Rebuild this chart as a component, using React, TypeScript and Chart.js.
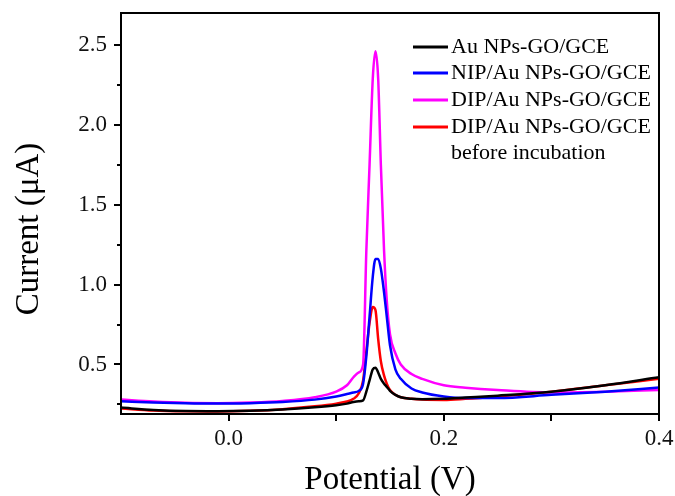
import React, { useEffect, useRef } from "react";
import { Chart, registerables } from "chart.js";

Chart.register(...registerables);

const potential = [-0.1, -0.07, -0.04, -0.01, 0.02, 0.05, 0.08, 0.1, 0.11, 0.116, 0.121, 0.125, 0.128, 0.131, 0.134, 0.1365, 0.139, 0.1415, 0.1445, 0.147, 0.15, 0.155, 0.16, 0.17, 0.18, 0.2, 0.22, 0.25, 0.3, 0.35, 0.4];

const auGoGce = [0.23, 0.215, 0.208, 0.207, 0.21, 0.218, 0.232, 0.245, 0.255, 0.265, 0.27, 0.275, 0.33, 0.4, 0.47, 0.48, 0.45, 0.41, 0.38, 0.36, 0.335, 0.31, 0.295, 0.285, 0.282, 0.285, 0.293, 0.305, 0.33, 0.37, 0.42];
const nipGce = [0.27, 0.262, 0.257, 0.255, 0.258, 0.265, 0.28, 0.3, 0.315, 0.325, 0.335, 0.38, 0.55, 0.8, 1.05, 1.16, 1.16, 1.1, 0.95, 0.8, 0.62, 0.47, 0.41, 0.35, 0.325, 0.3, 0.29, 0.29, 0.31, 0.33, 0.356];
const dipGce = [0.28, 0.268, 0.26, 0.258, 0.262, 0.272, 0.295, 0.33, 0.37, 0.42, 0.45, 0.5, 1.21, 1.75, 2.29, 2.46, 2.29, 1.75, 1.21, 0.9, 0.69, 0.57, 0.5, 0.44, 0.41, 0.37, 0.355, 0.34, 0.325, 0.33, 0.34];
const dipBefore = [0.225, 0.212, 0.207, 0.206, 0.21, 0.22, 0.238, 0.255, 0.268, 0.285, 0.32, 0.4, 0.58, 0.76, 0.86, 0.84, 0.66, 0.52, 0.43, 0.38, 0.34, 0.31, 0.295, 0.285, 0.28, 0.278, 0.285, 0.3, 0.33, 0.37, 0.41];

const seriesNames = ["Au NPs-GO/GCE", "NIP/Au NPs-GO/GCE", "DIP/Au NPs-GO/GCE", "DIP/Au NPs-GO/GCE"];
const seriesExtraLine = ["", "", "", "before incubation"];
const seriesColors = ["#000000", "#0000ff", "#ff00ff", "#ff0000"];

const xTickValues = [0.0, 0.1, 0.2, 0.3, 0.4];
const xLabelValues = [0.0, 0.2, 0.4];
const yTickValues = [0.25, 0.5, 0.75, 1.0, 1.25, 1.5, 1.75, 2.0, 2.25, 2.5];
const yLabelValues = [0.5, 1.0, 1.5, 2.0, 2.5];

const xTitle = "Potential (V)";
const yTitle = "Current (μA)";

const FONT = "'Liberation Serif', 'Times New Roman', serif";

export default function App() {
  const ref = useRef<HTMLCanvasElement | null>(null);

  useEffect(() => {
    document.body.style.margin = "0";
    const canvas = ref.current;
    if (!canvas) return;
    const values = [auGoGce, nipGce, dipGce, dipBefore];

    const decor = {
      id: "decor",
      afterDraw(chart: any) {
        const { ctx, chartArea } = chart;
        const xs = chart.scales.x;
        const ys = chart.scales.y;
        ctx.save();
        ctx.strokeStyle = "#000";
        ctx.lineWidth = 2;
        ctx.strokeRect(chartArea.left, chartArea.top, chartArea.right - chartArea.left, chartArea.bottom - chartArea.top);
        ctx.beginPath();
        for (const v of xTickValues) {
          const px = Math.round(xs.getPixelForValue(v));
          ctx.moveTo(px, chartArea.bottom);
          ctx.lineTo(px, chartArea.bottom + 7);
        }
        for (const v of yTickValues) {
          const py = Math.round(ys.getPixelForValue(v));
          const major = yLabelValues.some((l) => Math.abs(l - v) < 1e-9);
          ctx.moveTo(chartArea.left, py);
          ctx.lineTo(chartArea.left - (major ? 7 : 4), py);
        }
        ctx.stroke();

        ctx.fillStyle = "#000";
        ctx.font = `33px ${FONT}`;
        ctx.textAlign = "center";
        ctx.textBaseline = "middle";
        ctx.fillText(xTitle, (chartArea.left + chartArea.right) / 2, 480);
        ctx.save();
        ctx.translate(29, 229);
        ctx.rotate(-Math.PI / 2);
        ctx.fillText(yTitle, 0, 0);
        ctx.restore();

        ctx.font = `22px ${FONT}`;
        ctx.textAlign = "left";
        const rowY = [47, 73, 100, 127];
        ctx.lineWidth = 3;
        seriesNames.forEach((name, i) => {
          const y = rowY[i];
          ctx.strokeStyle = seriesColors[i];
          ctx.beginPath();
          ctx.moveTo(413, y);
          ctx.lineTo(448, y);
          ctx.stroke();
          ctx.fillText(name, 451, y);
          if (seriesExtraLine[i]) ctx.fillText(seriesExtraLine[i], 451, y + 26);
        });
        ctx.restore();
      },
    };

    const chart = new Chart(canvas, {
      type: "line",
      data: {
        datasets: seriesNames.map((name, i) => ({
          label: name,
          data: potential.map((x, j) => ({ x, y: values[i][j] })),
          borderColor: seriesColors[i],
          borderWidth: 2.5,
          pointRadius: 0,
          fill: false,
          cubicInterpolationMode: "monotone" as const,
        })),
      },
      options: {
        animation: false,
        responsive: false,
        layout: { padding: { top: 13, right: 16, left: 0, bottom: 0 } },
        plugins: { legend: { display: false }, tooltip: { enabled: false } },
        scales: {
          x: {
            type: "linear",
            min: -0.1,
            max: 0.4,
            grid: { display: false, drawTicks: false },
            border: { display: true, color: "#000", width: 2 },
            afterBuildTicks: (s: any) => {
              s.ticks = xLabelValues.map((v) => ({ value: v }));
            },
            afterFit: (s: any) => {
              s.height = 82;
              s.paddingLeft = 0;
              s.paddingRight = 0;
            },
            ticks: {
              color: "#111",
              font: { family: FONT, size: 23 },
              padding: 11,
              maxRotation: 0,
              callback: (v: any) => Number(v).toFixed(1),
            },
          },
          y: {
            type: "linear",
            min: 0.19,
            max: 2.7,
            grid: { display: false, drawTicks: false },
            border: { display: true, color: "#000", width: 2 },
            afterBuildTicks: (s: any) => {
              s.ticks = yLabelValues.map((v) => ({ value: v }));
            },
            afterFit: (s: any) => {
              s.width = 121;
              s.paddingTop = 0;
              s.paddingBottom = 0;
            },
            ticks: {
              color: "#111",
              font: { family: FONT, size: 23 },
              padding: 14,
              callback: (v: any) => Number(v).toFixed(1),
            },
          },
        },
      },
      plugins: [decor],
    });
    return () => chart.destroy();
  }, []);

  return <canvas ref={ref} width={675} height={496} />;
}
